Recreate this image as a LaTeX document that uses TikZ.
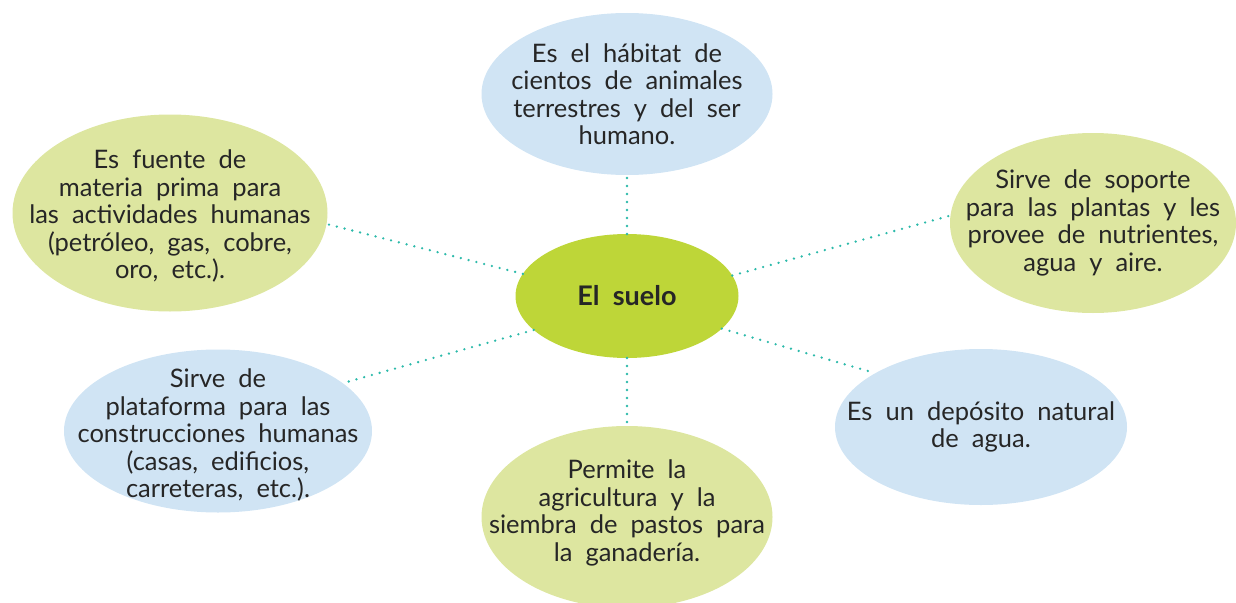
\documentclass[tikz,border=0pt]{standalone}
\usepackage{fontspec}
\setmainfont[WordSpace=2]{Lato}
\usepackage{tikz}
\usetikzlibrary{
  positioning,
  shapes.geometric
}
\definecolor{SoilGreen}{RGB}{190,214,56}
\definecolor{PaleGreen}{RGB}{221,230,160}
\definecolor{PaleBlue}{RGB}{208,228,244}
\definecolor{DotTeal}{RGB}{44,186,170}
\definecolor{InkGray}{RGB}{38,38,38}
\tikzset{
  bubble/.style={ellipse,draw=none,inner sep=0pt,outer sep=0pt},
  bubbletext/.style={align=center,text=InkGray,inner sep=0pt,font=\fontsize{25.5}{27.5}\selectfont},
  greenbubble/.style={bubble,fill=PaleGreen},
  bluebubble/.style={bubble,fill=PaleBlue},
  soilnode/.style={bubble,fill=SoilGreen,minimum width=223pt,minimum height=124pt},
  dotlink/.style={draw=DotTeal,line width=2.6pt,line cap=round,dash pattern=on 0pt off 8pt}
}

\begin{document}
\begin{tikzpicture}[x=1pt,y=1pt]
\useasboundingbox (0,0) rectangle (1236,-602);
\node[soilnode, label={[bubbletext,font=\fontsize{27}{30}\selectfont\bfseries]center:El suelo}] (suelo) at (627,-296) {};
\node[bluebubble, minimum width=291pt, minimum height=162pt, above=59pt of suelo,
  label={[bubbletext]center:{Es el hábitat de\\cientos de animales\\terrestres y del ser\\humano.}}] (habitat) {};
\node[greenbubble, minimum width=291pt, minimum height=182pt, below=68pt of suelo,
  label={[bubbletext,yshift=4pt]center:{Permite la\\agricultura y la\\siembra de pastos para\\la ganadería.}}] (agricultura) {};
\node[greenbubble, minimum width=315pt, minimum height=197pt,
  label={[bubbletext,yshift=-3pt]center:{Es fuente de\\materia prima para\\las actividades humanas\\(petróleo, gas, cobre,\\oro, etc.).}}] (fuente) at (170,-213) {};
\node[greenbubble, minimum width=286pt, minimum height=180pt,
  label={[bubbletext]center:{Sirve de soporte\\para las plantas y les\\provee de nutrientes,\\agua y aire.}}] (soporte) at (1093,-223) {};
\node[bluebubble, minimum width=308pt, minimum height=163pt,
  label={[bubbletext,yshift=-4pt]center:{Sirve de\\plataforma para las\\construcciones humanas\\(casas, edificios,\\carreteras, etc.).}}] (plataforma) at (218,-431) {};
\node[bluebubble, minimum width=292pt, minimum height=156pt,
  label={[bubbletext]center:{Es un depósito natural\\de agua.}}] (deposito) at (981,-427) {};

\draw[dotlink] (suelo.north) -- (habitat.south);
\draw[dotlink] (suelo.south) -- (agricultura.north);
\draw[dotlink] (suelo.168) -- (fuente.-4);
\draw[dotlink] (suelo.11) -- (soporte.177);
\draw[dotlink] (suelo.200) -- (plataforma.21);
\draw[dotlink] (suelo.-19) -- (deposito.153);
\end{tikzpicture}
\end{document}
